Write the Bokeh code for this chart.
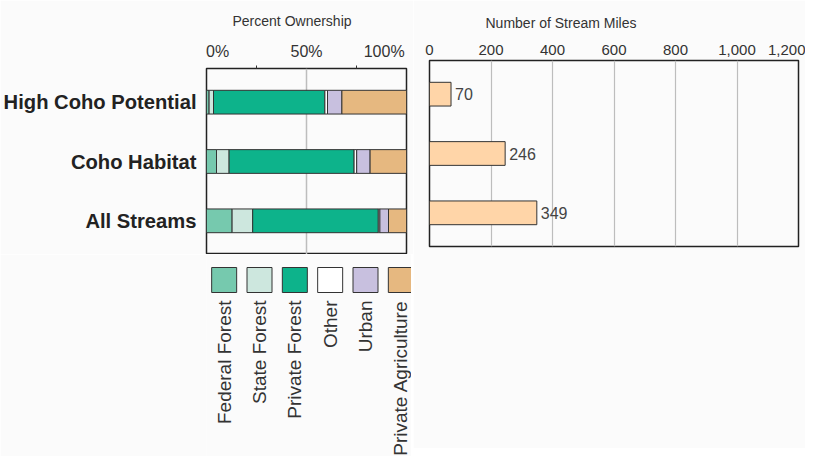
import numpy as np
from bokeh.plotting import figure
from bokeh.models import ColumnDataSource, FactorRange, Range1d, FixedTicker, NumeralTickFormatter
from bokeh.layouts import row, column
from bokeh.embed import file_html
from bokeh.resources import INLINE
from bokeh.core.properties import value

# ---------------- data ----------------
streams = ["High Coho Potential", "Coho Habitat", "All Streams"]
owners = ["Federal Forest", "State Forest", "Private Forest", "Other", "Urban", "Private Agriculture"]
federal_forest = [1.3, 5.0, 12.8]
state_forest = [2.2, 6.3, 10.3]
private_forest = [55.7, 62.5, 62.8]
other = [1.3, 1.3, 0.8]
urban = [7.2, 6.7, 4.3]
private_agriculture = [32.3, 18.2, 9.0]
miles = [70, 246, 349]
owner_colors = ["#76C9AE", "#CDE7DE", "#0DB38B", "#FFFFFF", "#C8C0DF", "#E6B880"]
pct_ticks = [0, 50, 100]
pct_labels = ["0%", "50%", "100%"]
pct_minor = [25, 75]
mile_ticks = [0, 200, 400, 600, 800, 1000, 1200]

BG = "#fbfbfb"
FONT = "Liberation Sans"
DARK = "#222222"
TXT = "#333333"
NB = "\u00a0"

src = ColumnDataSource(dict(
    stream=streams,
    **{owners[0]: federal_forest, owners[1]: state_forest, owners[2]: private_forest,
       owners[3]: other, owners[4]: urban, owners[5]: private_agriculture}))

y_range = FactorRange(factors=streams[::-1], range_padding=0.045)

def style_common(p):
    p.background_fill_color = BG
    p.border_fill_color = BG
    p.outline_line_color = DARK
    p.outline_line_width = 1.5
    p.ygrid.grid_line_color = None
    p.title.text_font = FONT
    p.title.text_font_size = "14px"
    p.title.text_font_style = "normal"
    p.title.text_color = TXT
    p.title.align = "left"
    p.title.standoff = 21

# ---------------- left: percent ownership ----------------
left = figure(x_range=Range1d(0, 100), y_range=y_range, frame_width=200, frame_height=186,
              min_border_left=204, min_border_right=7, min_border_top=60, min_border_bottom=0,
              x_axis_location="above", toolbar_location=None, output_backend="svg",
              title="Percent Ownership")
style_common(left)
left.title.offset = 26
left.hbar_stack(owners, y="stream", height=0.4, color=owner_colors, source=src,
                line_color="#333333", line_width=1)
left.xgrid.ticker = FixedTicker(ticks=[50])
left.xgrid.grid_line_color = "#bdbdbd"
left.xgrid.grid_line_width = 1.5
xa = left.xaxis[0]
xa.ticker = FixedTicker(ticks=pct_ticks, minor_ticks=pct_minor)
# first label sits right of its tick, last one left of its tick (kept inside the canvas by Bokeh)
xa.major_label_overrides = {pct_ticks[0]: NB * 5 + pct_labels[0],
                            pct_ticks[1]: pct_labels[1],
                            pct_ticks[2]: pct_labels[2] + NB * 2}
xa.axis_line_color = None
xa.major_tick_out = 0
xa.major_tick_in = 0
xa.minor_tick_out = 3
xa.minor_tick_in = 0
xa.minor_tick_line_color = "#333333"
xa.major_label_text_font = FONT
xa.major_label_text_font_size = "16px"
xa.major_label_text_color = TXT
xa.major_label_standoff = 6
ya = left.yaxis[0]
ya.axis_line_color = None
ya.major_tick_out = 0
ya.major_tick_in = 0
ya.minor_tick_line_color = None
ya.major_label_text_font = FONT
ya.major_label_text_font_size = "20.2px"
ya.major_label_text_font_style = "bold"
ya.major_label_text_color = DARK
ya.major_label_standoff = 10

# ---------------- legend ----------------
LEG_H = 202
leg = figure(x_range=FactorRange(factors=owners, range_padding=0),
             y_range=Range1d(-LEG_H, 0),
             frame_width=212, frame_height=LEG_H, min_border_left=199, min_border_right=0,
             min_border_top=0, min_border_bottom=0, x_axis_location=None, y_axis_location=None,
             toolbar_location=None, output_backend="svg")
leg.background_fill_color = BG
leg.border_fill_color = BG
leg.outline_line_color = None
leg.xgrid.grid_line_color = None
leg.ygrid.grid_line_color = None
leg.rect(x=owners, y=-25.5, width=25, height=25, width_units="screen", height_units="screen",
         fill_color=owner_colors, line_color="#333333", line_width=1)
leg.text(x=owners, y=-46, text=owners, angle=np.pi / 2, text_align="right", text_baseline="middle",
         text_font=value(FONT), text_font_size="19px", text_color=TXT)

# ---------------- right: stream miles ----------------
right = figure(x_range=Range1d(0, 1200), y_range=y_range, frame_width=369, frame_height=186,
               min_border_left=16, min_border_right=7, min_border_top=60, min_border_bottom=LEG_H,
               x_axis_location="above", y_axis_location=None, toolbar_location=None,
               output_backend="svg", title="Number of Stream Miles")
style_common(right)
right.title.offset = 56
right.hbar(y=streams, right=miles, height=0.4, fill_color="#FFD5A8", line_color="#333333", line_width=1)
right.text(x=miles, y=streams, text=[str(m) for m in miles], x_offset=4, text_baseline="middle",
           text_font=value(FONT), text_font_size="16px", text_color="#444444")
right.xgrid.ticker = FixedTicker(ticks=mile_ticks)
right.xgrid.grid_line_color = "#bdbdbd"
right.xgrid.grid_line_width = 1.2
xb = right.xaxis[0]
xb.ticker = FixedTicker(ticks=mile_ticks)
xb.formatter = NumeralTickFormatter(format="0,0")
xb.axis_line_color = None
xb.major_tick_out = 0
xb.major_tick_in = 0
xb.minor_tick_line_color = None
xb.major_label_text_font = FONT
xb.major_label_text_font_size = "15px"
xb.major_label_text_color = TXT
xb.major_label_standoff = 6

layout = row(column(left, leg), right)
open("out.html", "w").write(file_html(layout, INLINE))
